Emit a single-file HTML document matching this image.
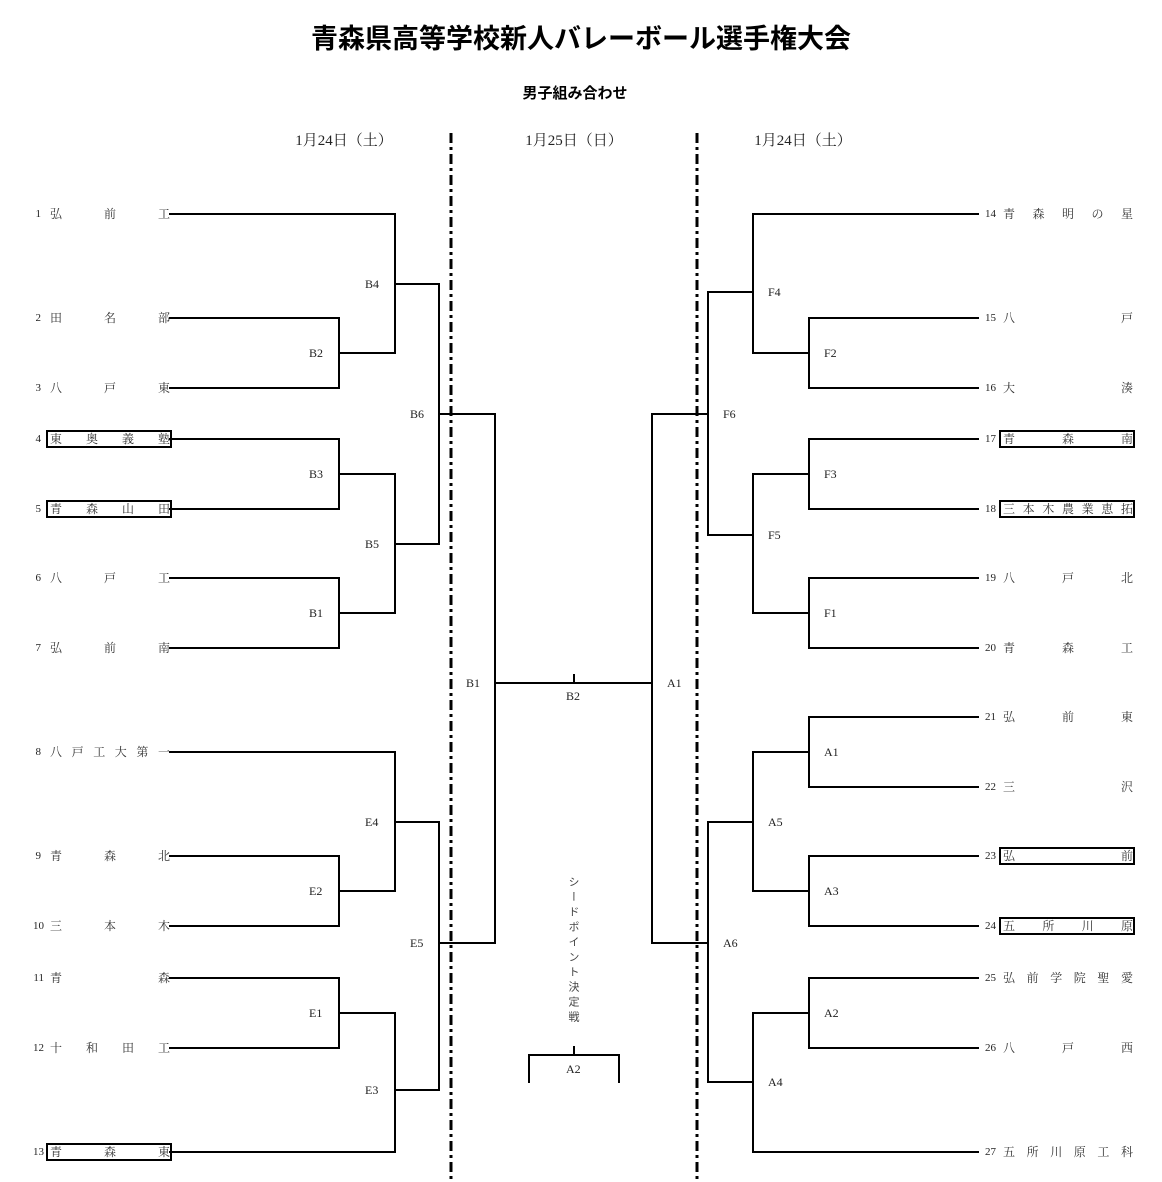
<!DOCTYPE html>
<html><head><meta charset="utf-8">
<style>
html,body{margin:0;padding:0;background:#fff;}
#w{position:relative;width:1162px;height:1182px;overflow:hidden;font-family:"Liberation Serif","Noto Serif CJK SC","Noto Sans CJK JP",serif;color:#222;}
.t{position:absolute;white-space:nowrap;}
.n{position:absolute;font-size:11px;text-align:right;width:30px;height:14px;line-height:14px;}
.nm{position:absolute;display:flex;justify-content:space-between;font-size:12px;height:14px;line-height:14px;font-family:"Liberation Serif","Noto Serif CJK SC",serif;color:#333;}
.l{position:absolute;font-size:12px;line-height:14px;height:14px;}
svg{position:absolute;left:0;top:0;}
</style></head><body><div id="w">
<svg width="1162" height="1182" viewBox="0 0 1162 1182">
<g stroke="#000" stroke-width="2" fill="none" stroke-linecap="square">
<polyline points="170,214 395,214 395,353 339,353"/>
<polyline points="170,318 339,318 339,388 170,388"/>
<polyline points="395,284 439,284"/>
<polyline points="170,439 339,439 339,509 170,509"/>
<polyline points="339,474 395,474 395,613 339,613"/>
<polyline points="170,578 339,578 339,648 170,648"/>
<polyline points="395,544 439,544"/>
<polyline points="439,284 439,544"/>
<polyline points="439,414 495,414 495,943 439,943"/>
<polyline points="170,752 395,752 395,891 339,891"/>
<polyline points="170,856 339,856 339,926 170,926"/>
<polyline points="395,822 439,822 439,1090 395,1090"/>
<polyline points="170,978 339,978 339,1048 170,1048"/>
<polyline points="339,1013 395,1013 395,1152 170,1152"/>
<polyline points="495,683 652,683"/>
<polyline points="574,675 574,683"/>
<polyline points="708,414 652,414 652,943 708,943"/>
<polyline points="529,1082 529,1055 619,1055 619,1082"/>
<polyline points="574,1047 574,1055"/>
<polyline points="978,214 753,214 753,353 809,353"/>
<polyline points="978,318 809,318 809,388 978,388"/>
<polyline points="753,292 708,292 708,535 753,535"/>
<polyline points="978,439 809,439 809,509 978,509"/>
<polyline points="809,474 753,474 753,613 809,613"/>
<polyline points="978,578 809,578 809,648 978,648"/>
<polyline points="978,717 809,717 809,787 978,787"/>
<polyline points="809,752 753,752 753,891 809,891"/>
<polyline points="978,856 809,856 809,926 978,926"/>
<polyline points="753,822 708,822 708,1082 753,1082"/>
<polyline points="978,978 809,978 809,1048 978,1048"/>
<polyline points="809,1013 753,1013 753,1152 978,1152"/>
<rect x="47" y="431" width="124" height="16"/>
<rect x="47" y="501" width="124" height="16"/>
<rect x="47" y="1144" width="124" height="16"/>
<rect x="1000" y="431" width="134" height="16"/>
<rect x="1000" y="501" width="134" height="16"/>
<rect x="1000" y="848" width="134" height="16"/>
<rect x="1000" y="918" width="134" height="16"/>
</g>
<g stroke="#000" stroke-width="3" stroke-dasharray="10 4 3 4">
<line x1="451" y1="133" x2="451" y2="1182"/>
<line x1="697" y1="133" x2="697" y2="1182"/>
</g>
</svg>

<div class="t" style="left:0;width:1162px;top:18px;text-align:center;font-size:27px;font-weight:bold;font-family:'Noto Sans CJK JP',sans-serif;color:#000;line-height:38px;">青森県高等学校新人バレーボール選手権大会</div>
<div class="t" style="left:0;width:1150px;top:83px;text-align:center;font-size:15px;font-weight:bold;font-family:'Noto Sans CJK JP',sans-serif;color:#000;line-height:20px;">男子組み合わせ</div>
<div class="t" style="left:284px;width:120px;top:131px;text-align:center;font-size:15px;line-height:20px;">1月24日（土）</div>
<div class="t" style="left:514px;width:120px;top:131px;text-align:center;font-size:15px;line-height:20px;">1月25日（日）</div>
<div class="t" style="left:743px;width:120px;top:131px;text-align:center;font-size:15px;line-height:20px;">1月24日（土）</div>

<div class="n" style="left:11px;top:207px">1</div><div class="nm" style="left:50px;top:207px;width:120px"><span>弘</span><span>前</span><span>工</span></div>
<div class="n" style="left:11px;top:311px">2</div><div class="nm" style="left:50px;top:311px;width:120px"><span>田</span><span>名</span><span>部</span></div>
<div class="n" style="left:11px;top:381px">3</div><div class="nm" style="left:50px;top:381px;width:120px"><span>八</span><span>戸</span><span>東</span></div>
<div class="n" style="left:11px;top:432px">4</div><div class="nm" style="left:50px;top:432px;width:120px"><span>東</span><span>奥</span><span>義</span><span>塾</span></div>
<div class="n" style="left:11px;top:502px">5</div><div class="nm" style="left:50px;top:502px;width:120px"><span>青</span><span>森</span><span>山</span><span>田</span></div>
<div class="n" style="left:11px;top:571px">6</div><div class="nm" style="left:50px;top:571px;width:120px"><span>八</span><span>戸</span><span>工</span></div>
<div class="n" style="left:11px;top:641px">7</div><div class="nm" style="left:50px;top:641px;width:120px"><span>弘</span><span>前</span><span>南</span></div>
<div class="n" style="left:11px;top:745px">8</div><div class="nm" style="left:50px;top:745px;width:120px"><span>八</span><span>戸</span><span>工</span><span>大</span><span>第</span><span>一</span></div>
<div class="n" style="left:11px;top:849px">9</div><div class="nm" style="left:50px;top:849px;width:120px"><span>青</span><span>森</span><span>北</span></div>
<div class="n" style="left:14px;top:919px">10</div><div class="nm" style="left:50px;top:919px;width:120px"><span>三</span><span>本</span><span>木</span></div>
<div class="n" style="left:14px;top:971px">11</div><div class="nm" style="left:50px;top:971px;width:120px"><span>青</span><span>森</span></div>
<div class="n" style="left:14px;top:1041px">12</div><div class="nm" style="left:50px;top:1041px;width:120px"><span>十</span><span>和</span><span>田</span><span>工</span></div>
<div class="n" style="left:14px;top:1145px">13</div><div class="nm" style="left:50px;top:1145px;width:120px"><span>青</span><span>森</span><span>東</span></div>

<div class="n" style="left:966px;top:207px">14</div><div class="nm" style="left:1003px;top:207px;width:130px"><span>青</span><span>森</span><span>明</span><span>の</span><span>星</span></div>
<div class="n" style="left:966px;top:311px">15</div><div class="nm" style="left:1003px;top:311px;width:130px"><span>八</span><span>戸</span></div>
<div class="n" style="left:966px;top:381px">16</div><div class="nm" style="left:1003px;top:381px;width:130px"><span>大</span><span>湊</span></div>
<div class="n" style="left:966px;top:432px">17</div><div class="nm" style="left:1003px;top:432px;width:130px"><span>青</span><span>森</span><span>南</span></div>
<div class="n" style="left:966px;top:502px">18</div><div class="nm" style="left:1003px;top:502px;width:130px"><span>三</span><span>本</span><span>木</span><span>農</span><span>業</span><span>恵</span><span>拓</span></div>
<div class="n" style="left:966px;top:571px">19</div><div class="nm" style="left:1003px;top:571px;width:130px"><span>八</span><span>戸</span><span>北</span></div>
<div class="n" style="left:966px;top:641px">20</div><div class="nm" style="left:1003px;top:641px;width:130px"><span>青</span><span>森</span><span>工</span></div>
<div class="n" style="left:966px;top:710px">21</div><div class="nm" style="left:1003px;top:710px;width:130px"><span>弘</span><span>前</span><span>東</span></div>
<div class="n" style="left:966px;top:780px">22</div><div class="nm" style="left:1003px;top:780px;width:130px"><span>三</span><span>沢</span></div>
<div class="n" style="left:966px;top:849px">23</div><div class="nm" style="left:1003px;top:849px;width:130px"><span>弘</span><span>前</span></div>
<div class="n" style="left:966px;top:919px">24</div><div class="nm" style="left:1003px;top:919px;width:130px"><span>五</span><span>所</span><span>川</span><span>原</span></div>
<div class="n" style="left:966px;top:971px">25</div><div class="nm" style="left:1003px;top:971px;width:130px"><span>弘</span><span>前</span><span>学</span><span>院</span><span>聖</span><span>愛</span></div>
<div class="n" style="left:966px;top:1041px">26</div><div class="nm" style="left:1003px;top:1041px;width:130px"><span>八</span><span>戸</span><span>西</span></div>
<div class="n" style="left:966px;top:1145px">27</div><div class="nm" style="left:1003px;top:1145px;width:130px"><span>五</span><span>所</span><span>川</span><span>原</span><span>工</span><span>科</span></div>

<div class="l" style="left:365px;top:277px">B4</div>
<div class="l" style="left:309px;top:346px">B2</div>
<div class="l" style="left:410px;top:407px">B6</div>
<div class="l" style="left:309px;top:467px">B3</div>
<div class="l" style="left:365px;top:537px">B5</div>
<div class="l" style="left:309px;top:606px">B1</div>
<div class="l" style="left:466px;top:676px">B1</div>
<div class="l" style="left:365px;top:815px">E4</div>
<div class="l" style="left:309px;top:884px">E2</div>
<div class="l" style="left:410px;top:936px">E5</div>
<div class="l" style="left:309px;top:1006px">E1</div>
<div class="l" style="left:365px;top:1083px">E3</div>
<div class="l" style="left:566px;top:689px">B2</div>
<div class="l" style="left:667px;top:676px">A1</div>
<div class="l" style="left:566px;top:1062px">A2</div>
<div class="t" style="left:566px;top:876px;writing-mode:vertical-rl;font-size:11px;letter-spacing:4px;font-family:'Noto Sans CJK JP',sans-serif;color:#444;line-height:16px;">シードポイント決定戦</div>
<div class="l" style="left:768px;top:285px">F4</div>
<div class="l" style="left:824px;top:346px">F2</div>
<div class="l" style="left:723px;top:407px">F6</div>
<div class="l" style="left:824px;top:467px">F3</div>
<div class="l" style="left:768px;top:528px">F5</div>
<div class="l" style="left:824px;top:606px">F1</div>
<div class="l" style="left:824px;top:745px">A1</div>
<div class="l" style="left:768px;top:815px">A5</div>
<div class="l" style="left:824px;top:884px">A3</div>
<div class="l" style="left:723px;top:936px">A6</div>
<div class="l" style="left:824px;top:1006px">A2</div>
<div class="l" style="left:768px;top:1075px">A4</div>
</div></body></html>
